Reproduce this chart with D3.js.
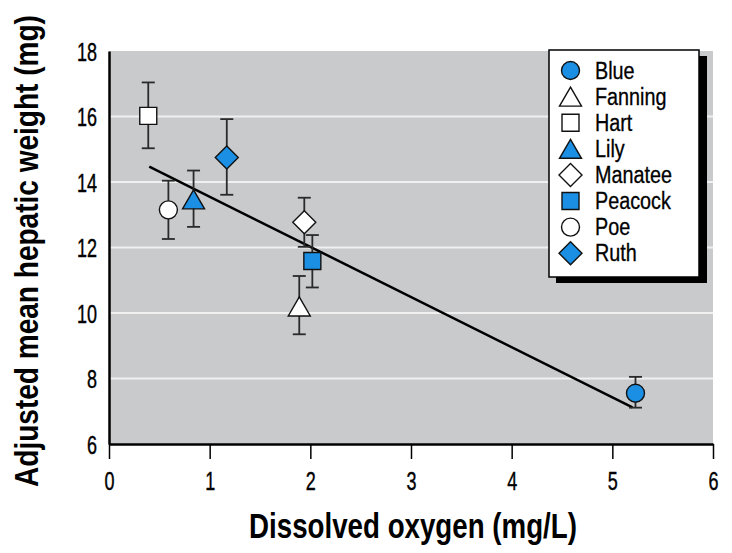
<!DOCTYPE html>
<html><head><meta charset="utf-8">
<script src="https://cdn.jsdelivr.net/npm/d3@7"></script>
<style>body{margin:0;background:#fff}svg{display:block}</style>
</head><body>
<svg id="c" width="732" height="553"></svg>
<script>
const lakes = ["Blue","Fanning","Hart","Lily","Manatee","Peacock","Poe","Ruth"];
const oxygen = [5.23, 1.89, 0.39, 0.84, 1.94, 2.02, 0.59, 1.17];
const weight = [7.55, 10.2, 16.02, 13.47, 12.77, 11.59, 13.15, 14.75];
const errLow = [7.11, 9.35, 15.03, 12.63, 12.02, 10.78, 12.26, 13.61];
const errHigh = [8.05, 11.13, 17.04, 14.35, 13.52, 12.38, 14.04, 15.92];
const shapes = ["circle","triangle","square","triangle","diamond","square","circle","diamond"];
const filled = [true,false,false,true,false,true,false,true];
const fitX = [0.4, 5.2];
const fitY = [14.47, 7.12];
const xTicks = [0,1,2,3,4,5,6];
const yTicks = [6,8,10,12,14,16,18];

const FONT = "'Liberation Sans',Arial,sans-serif";
const BLUE = "#1b8fe3";
const svg = d3.select("#c");
const x = d3.scaleLinear().domain([0,6]).range([109,713]);
const y = d3.scaleLinear().domain([6,18]).range([444,51]);

svg.append("rect").attr("x",x(0)).attr("y",y(18)).attr("width",x(6)-x(0)).attr("height",y(6)-y(18)).attr("fill","#c9cacc");
svg.append("g").selectAll("line").data(yTicks.filter(d=>d>6&&d<18)).join("line")
  .attr("x1",x(0)).attr("x2",x(6)).attr("y1",d=>y(d)).attr("y2",d=>y(d))
  .attr("stroke","#f0f0f0").attr("stroke-width",2);

const xa = svg.append("g").attr("transform",`translate(0,${y(6)})`)
  .call(d3.axisBottom(x).tickValues(xTicks).tickFormat(d3.format("d")).tickSize(15).tickSizeOuter(0));
xa.select(".domain").attr("stroke","#000").attr("stroke-width",2.5);
xa.selectAll(".tick line").attr("stroke","#000").attr("stroke-width",1.5);
xa.selectAll("text").style("font-family",FONT).style("font-size","25px").attr("fill","#000")
  .attr("stroke","#000").attr("stroke-width",0.4)
  .attr("y",0).attr("dy",0).attr("transform","translate(0,46) scale(0.72,1)");

const ya = svg.append("g").attr("transform",`translate(${x(0)},0)`)
  .call(d3.axisLeft(y).tickValues(yTicks).tickSize(0).tickSizeOuter(0));
ya.select(".domain").attr("stroke","#000").attr("stroke-width",2.5);
ya.selectAll("text").style("font-family",FONT).style("font-size","25px").attr("fill","#000")
  .attr("stroke","#000").attr("stroke-width",0.4)
  .attr("x",0).attr("dy",0).attr("transform","translate(-12,9) scale(0.72,1)");

function fitText(sel, target, tx, ty, rot){
  const w = sel.node().getComputedTextLength();
  const k = target / w;
  sel.attr("transform",`translate(${tx},${ty}) rotate(${rot}) scale(${k},1)`);
}
const xt = svg.append("text").attr("x",0).attr("y",0).attr("text-anchor","middle")
  .style("font-family",FONT).style("font-weight","bold").style("font-size","35px").text("Dissolved oxygen (mg/L)");
fitText(xt, 328, 413, 538, 0);
const yt = svg.append("text").attr("x",0).attr("y",0).attr("text-anchor","middle")
  .style("font-family",FONT).style("font-weight","bold").style("font-size","33px").text("Adjusted mean hepatic weight (mg)");
fitText(yt, 472, 38, 251, -90);

// fit line
svg.append("line").attr("x1",x(fitX[0])).attr("y1",y(fitY[0])).attr("x2",x(fitX[1])).attr("y2",y(fitY[1]))
  .attr("stroke","#000").attr("stroke-width",2.5);

function sym(s){
  const p = d3.path();
  if(s==="circle"){ p.arc(0,0,9,0,2*Math.PI); }
  else if(s==="square"){ p.rect(-8.5,-8.5,17,17); }
  else if(s==="diamond"){ p.moveTo(0,-11.5); p.lineTo(11.5,0); p.lineTo(0,11.5); p.lineTo(-11.5,0); p.closePath(); }
  else { p.moveTo(0,-9.5); p.lineTo(11,9.5); p.lineTo(-11,9.5); p.closePath(); }
  return p.toString();
}

const pts = lakes.map((l,i)=>({l,x:oxygen[i],y:weight[i],lo:errLow[i],hi:errHigh[i],s:shapes[i],f:filled[i]}));
const g = svg.append("g");
pts.forEach(p=>{
  const cx = x(p.x);
  g.append("line").attr("x1",cx).attr("x2",cx).attr("y1",y(p.lo)).attr("y2",y(p.hi)).attr("stroke","#2a2a2a").attr("stroke-width",1.8);
  [p.lo,p.hi].forEach(v=>g.append("line").attr("x1",cx-6.5).attr("x2",cx+6.5).attr("y1",y(v)).attr("y2",y(v)).attr("stroke","#2a2a2a").attr("stroke-width",1.8));
});
pts.forEach(p=>{
  g.append("path").attr("d",sym(p.s)).attr("transform",`translate(${x(p.x)},${y(p.y)})`)
   .attr("fill",p.f?BLUE:"#fff").attr("stroke","#111").attr("stroke-width",1.4);
});

// legend
const lg = svg.append("g");
lg.append("rect").attr("x",556).attr("y",56).attr("width",151).attr("height",227).attr("fill","#000");
lg.append("rect").attr("x",549).attr("y",50).attr("width",150).attr("height",227).attr("fill","#fff").attr("stroke","#000").attr("stroke-width",1.5);
lakes.forEach((l,i)=>{
  const cy = 70.5 + i*26.1;
  lg.append("path").attr("d",sym(shapes[i])).attr("transform",`translate(570.5,${cy})`)
    .attr("fill",filled[i]?BLUE:"#fff").attr("stroke","#111").attr("stroke-width",1.4);
  lg.append("text").attr("x",0).attr("y",0).style("font-family",FONT).style("font-size","23px")
    .attr("stroke","#000").attr("stroke-width",0.3)
    .attr("transform",`translate(595,${cy+8}) scale(0.86,1)`).text(l);
});
</script>
</body></html>
